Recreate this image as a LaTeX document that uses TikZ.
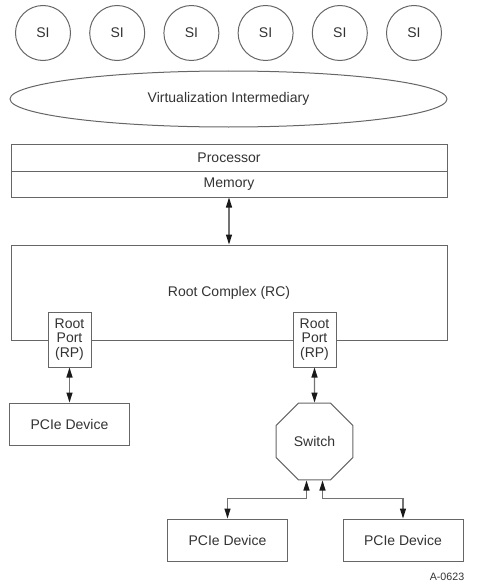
\documentclass[tikz,border=0pt]{standalone}
\usepackage{fontspec}
\setmainfont{Liberation Sans}
\usetikzlibrary{shapes.geometric,arrows.meta}

\tikzset{every picture/.style={line width=0.75pt}}
\tikzset{
  lbl/.style={text=black!80,font=\fontsize{10.5}{12}\selectfont,inner sep=0pt},
  si/.style={lbl,draw=black!60,circle,minimum size=41.25pt},
  box/.style={lbl,draw=black!60,rectangle,fill=white},
  dev/.style={box,minimum width=90pt,minimum height=31.5pt},
  port/.style={box,align=center,minimum width=32.25pt,minimum height=41.25pt,font=\fontsize{10.5}{10.9}\selectfont},
  tip/.tip={Triangle[length=7.5pt,width=4.5pt,color=black!90]},
  link/.style={draw=black!55,line width=1pt,tip-tip},
}

\begin{document}
\begin{tikzpicture}[x=0.75pt,y=0.75pt,yscale=-1,xscale=1]
	\useasboundingbox (0,0) rectangle (481,585);

	%Shape: Circles
	\foreach \i in {0,...,5}
		\node[si] (si\i) at (43+74.2*\i,33) {SI};
	%Shape: Ellipse
	\node[lbl,draw=black!60,ellipse,minimum width=327.75pt,minimum height=42pt] (vi) at (228.5,99) {Virtualization Intermediary};

	%Shape: Rectangles
	\node[box,minimum width=327pt,minimum height=20.25pt] (proc) at (229,157.5) {Processor};
	\node[box,minimum width=327pt,minimum height=19.5pt] (mem) at (229,184) {Memory};
	\node[box,minimum width=327pt,minimum height=71.25pt] (rc) at (229,292.5) {Root Complex (RC)};
	\node[port] (rpl) at (69.5,339.5) {Root\\Port\\(RP)};
	\node[port] (rpr) at (314.5,339.5) {Root\\Port\\(RP)};
	\node[dev] (devl) at (69.5,424) {PCIe Device};
	%Shape: Octagon
	\node[lbl,draw=black!60,regular polygon,regular polygon sides=8,minimum size=62.5pt] (sw) at (314.5,441.5) {Switch};
	\node[dev] (deva) at (227.5,540) {PCIe Device};
	\node[dev] (devb) at (403,540) {PCIe Device};

	%Straight Lines
	\draw[link] (mem.south) -- (rc.north);
	\draw[link] (rpl.south) -- (devl.north);
	\draw[link] (rpr.south) -- (sw.north);
	\draw[link] ([xshift=-6pt]sw.south) -- ++(0,18) -| (deva.north);
	\draw[link] ([xshift=6pt]sw.south) -- ++(0,18) -| (devb.north);

	% Text Node
	\node[text=black!80,font=\fontsize{8}{9}\selectfont,inner sep=0pt] (tag) at (447,577) {A-0623};

\end{tikzpicture}
\end{document}
